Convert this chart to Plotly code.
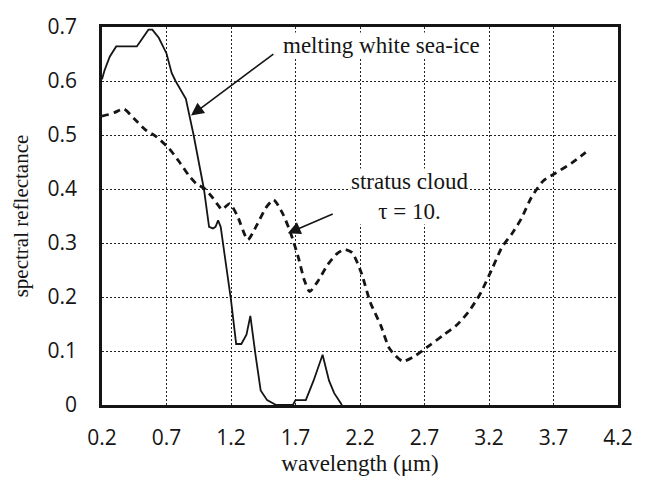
import plotly.graph_objects as go

# ---- data ----
ice_wavelength = [0.2, 0.22, 0.26, 0.31, 0.47, 0.49, 0.54, 0.56, 0.59, 0.64, 0.70, 0.74, 0.77,
                  0.85, 0.91, 0.99, 1.03, 1.06, 1.08, 1.10, 1.12, 1.14, 1.20, 1.24, 1.28, 1.32,
                  1.35, 1.39, 1.43, 1.48, 1.55, 1.68, 1.70, 1.78, 1.84, 1.91, 1.96, 2.0, 2.06]
ice_reflectance = [0.603, 0.62, 0.645, 0.664, 0.664, 0.671, 0.69, 0.695, 0.695, 0.68, 0.651, 0.615, 0.60,
                   0.567, 0.50, 0.40, 0.33, 0.327, 0.33, 0.342, 0.33, 0.297, 0.194, 0.113, 0.113, 0.13,
                   0.165, 0.093, 0.027, 0.009, 0.0, 0.0, 0.009, 0.009, 0.045, 0.093, 0.045, 0.022, 0.0]

cloud_wavelength = [0.2, 0.25, 0.3, 0.37, 0.45, 0.54, 0.62, 0.72, 0.80, 0.87, 0.93, 1.0, 1.06, 1.10,
                    1.13, 1.19, 1.25, 1.33, 1.40, 1.47, 1.53, 1.60, 1.66, 1.72, 1.77, 1.81, 1.87, 1.95,
                    2.02, 2.08, 2.14, 2.21, 2.28, 2.36, 2.43, 2.53, 2.62, 2.72, 2.85, 2.95, 3.04, 3.13,
                    3.22, 3.30, 3.38, 3.45, 3.53, 3.62, 3.72, 3.84, 3.95]
cloud_reflectance = [0.535, 0.538, 0.542, 0.548, 0.53, 0.509, 0.497, 0.475, 0.45, 0.426, 0.41, 0.40, 0.383, 0.37,
                     0.362, 0.373, 0.35, 0.306, 0.333, 0.365, 0.38, 0.355, 0.32, 0.275, 0.23, 0.21, 0.228, 0.26,
                     0.28, 0.288, 0.282, 0.245, 0.19, 0.148, 0.104, 0.081, 0.09, 0.107, 0.13, 0.148, 0.172, 0.205,
                     0.25, 0.292, 0.318, 0.345, 0.385, 0.415, 0.43, 0.448, 0.468]

x_ticks = [0.2, 0.7, 1.2, 1.7, 2.2, 2.7, 3.2, 3.7, 4.2]
x_tick_labels = ["0.2", "0.7", "1.2", "1.7", "2.2", "2.7", "3.2", "3.7", "4.2"]
y_ticks = [0, 0.1, 0.2, 0.3, 0.4, 0.5, 0.6, 0.7]
y_tick_labels = ["0", "0.1", "0.2", "0.3", "0.4", "0.5", "0.6", "0.7"]

ice_label = "melting white sea-ice"
cloud_label = "stratus cloud<br>τ = 10."
ice_label_pos = (2.37, 0.666)
ice_arrow_tip = (0.89, 0.536)
ice_arrow_tail = (1.54, 0.652)
cloud_label_pos = (2.58, 0.387)
cloud_arrow_tip = (1.64, 0.318)
cloud_arrow_tail = (2.0, 0.355)

serif = "Liberation Serif, Times New Roman, serif"
sans = "Open Sans, sans-serif"
ink = "#151515"

fig = go.Figure()
fig.add_trace(go.Scatter(x=ice_wavelength, y=ice_reflectance, mode="lines",
                         line=dict(color=ink, width=1.8), showlegend=False))
fig.add_trace(go.Scatter(x=cloud_wavelength, y=cloud_reflectance, mode="lines",
                         line=dict(color=ink, width=2.8, dash="7px,5px", shape="spline", smoothing=0.6),
                         showlegend=False))

fig.add_annotation(x=ice_label_pos[0], y=ice_label_pos[1], xref="x", yref="y", text=ice_label,
                   showarrow=False, font=dict(family=serif, size=23, color=ink),
                   bgcolor="white", borderpad=0)
fig.add_annotation(x=cloud_label_pos[0], y=cloud_label_pos[1], xref="x", yref="y", text=cloud_label,
                   showarrow=False, font=dict(family=serif, size=23, color=ink),
                   bgcolor="white", borderpad=0, align="center")

# arrows
for tip, tail in [(ice_arrow_tip, ice_arrow_tail), (cloud_arrow_tip, cloud_arrow_tail)]:
    fig.add_annotation(x=tip[0], y=tip[1], ax=tail[0], ay=tail[1], xref="x", yref="y",
                       axref="x", ayref="y", text="", showarrow=True, arrowhead=2,
                       arrowsize=1.6, arrowwidth=1.6, arrowcolor=ink)

grid = dict(showgrid=True, gridcolor="#222", gridwidth=1.3, griddash="1.5px,2.5px",
            showline=True, linecolor=ink, linewidth=2.5, mirror=True, ticks="", zeroline=False,
            tickfont=dict(family=sans, size=21, color=ink))
fig.update_xaxes(range=[0.2, 4.2], tickvals=x_ticks, ticktext=x_tick_labels,
                 ticklabelstandoff=12, **grid,
                 title=dict(text="wavelength (μm)", font=dict(family=serif, size=23, color=ink), standoff=0))
fig.update_yaxes(range=[0, 0.7], tickvals=y_ticks, ticktext=y_tick_labels,
                 ticklabelstandoff=18, **grid,
                 title=dict(text="spectral reflectance", font=dict(family=serif, size=21, color=ink), standoff=14))

fig.update_layout(width=645, height=479, margin=dict(l=102, r=20, t=16, b=74),
                  paper_bgcolor="white", plot_bgcolor="white")
fig.write_html("out.html")
